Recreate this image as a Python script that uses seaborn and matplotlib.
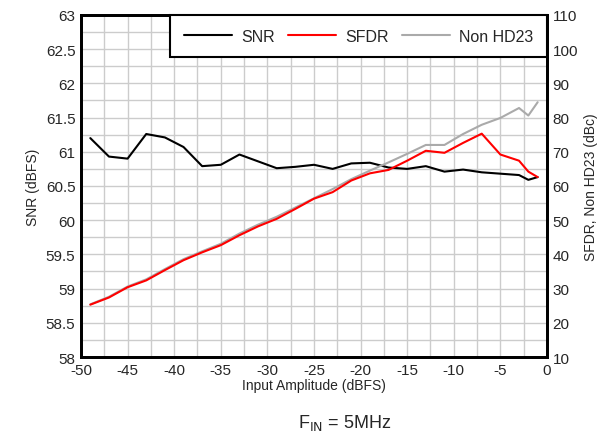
import pandas as pd
import matplotlib.pyplot as plt
import seaborn as sns
import numpy as np
from matplotlib.ticker import MultipleLocator

sns.set_style("white")
plt.rcParams['font.family'] = ['Liberation Sans', 'DejaVu Sans']
plt.rcParams['axes.unicode_minus'] = False

# Input amplitude (dBFS)
amp = [-49, -47, -45, -43, -41, -39, -37, -35, -33, -31, -29, -27, -25,
       -23, -21, -19, -17, -15, -13, -11, -9, -7, -5, -3, -2, -1]

# SNR (dBFS), left axis
snr = [61.20, 60.93, 60.90, 61.26, 61.21, 61.07, 60.79, 60.81, 60.96, 60.86,
       60.76, 60.78, 60.81, 60.75, 60.83, 60.84, 60.77, 60.75, 60.79, 60.71,
       60.74, 60.70, 60.68, 60.66, 60.59, 60.63]

# SFDR and Non HD23 (dBc), right axis
sfdr = [25.3, 27.4, 30.4, 32.4, 35.4, 38.3, 40.6, 42.7, 45.6, 48.2,
        50.4, 53.3, 56.3, 58.2, 61.6, 63.7, 64.7, 67.4, 70.3, 69.7,
        72.6, 75.3, 69.2, 67.4, 64.2, 62.6]
non_hd23 = [25.4, 27.6, 30.6, 32.7, 35.7, 38.6, 40.9, 43.1, 46.1, 48.7,
            51.0, 53.7, 56.4, 59.1, 62.0, 64.5, 66.9, 69.4, 72.0, 72.0,
            75.2, 77.9, 79.9, 82.8, 80.6, 84.5]

df = pd.DataFrame({"amp": amp, "SNR": snr, "SFDR": sfdr, "Non HD23": non_hd23})

fig = plt.figure(figsize=(6.15, 4.39), dpi=100)
ax = fig.add_axes([0.1317, 0.1845, 0.7577, 0.7791])
ax2 = ax.twinx()

sns.lineplot(data=df, x="amp", y="SNR", ax=ax, color="black", lw=1.5, label="SNR", legend=False)
sns.lineplot(data=df, x="amp", y="Non HD23", ax=ax2, color="#aaaaaa", lw=1.5, label="Non HD23", legend=False)
sns.lineplot(data=df, x="amp", y="SFDR", ax=ax2, color="#ff0000", lw=1.5, label="SFDR", legend=False)

ax.set_xlim(-50, 0)
ax.set_ylim(58, 63)
ax2.set_ylim(10, 110)
ax.xaxis.set_major_locator(MultipleLocator(5))
ax.xaxis.set_minor_locator(MultipleLocator(2.5))
ax.yaxis.set_major_locator(MultipleLocator(0.5))
ax.yaxis.set_minor_locator(MultipleLocator(0.25))
ax2.yaxis.set_major_locator(MultipleLocator(10))
ax.yaxis.set_major_formatter(plt.FuncFormatter(lambda v, p: f"{v:g}"))

ax.grid(True, which="both", color="#cccccc", lw=1)
ax.set_axisbelow(True)
ax2.grid(False)

for a in (ax, ax2):
    a.tick_params(which="both", length=0, labelsize=11, pad=4)
    for s in a.spines.values():
        s.set_color("black")
        s.set_linewidth(2)

ax.set_xlabel("Input Amplitude (dBFS)", fontsize=10, labelpad=1)
ax.set_ylabel("SNR (dBFS)", fontsize=10)
ax2.set_ylabel("SFDR, Non HD23 (dBc)", fontsize=10)

h1, l1 = ax.get_legend_handles_labels()
h2, l2 = ax2.get_legend_handles_labels()
handles = [h1[0], h2[1], h2[0]]
labels = ["SNR", "SFDR", "Non HD23"]
leg = ax2.legend(handles, labels, ncol=3, loc="upper right", bbox_to_anchor=(1.0, 1.0),
                 frameon=True, fancybox=False, fontsize=11.5, borderaxespad=0,
                 handlelength=3.0, handletextpad=0.6, columnspacing=0.8, borderpad=0.85)
leg.get_frame().set_edgecolor("black")
leg.get_frame().set_linewidth(1.5)
leg.get_frame().set_alpha(1)

fig.text(0.561, 0.025, r"F$_{\mathrm{IN}}$ = 5MHz", ha="center", fontsize=13)

fig.savefig("out.png", dpi=100)
